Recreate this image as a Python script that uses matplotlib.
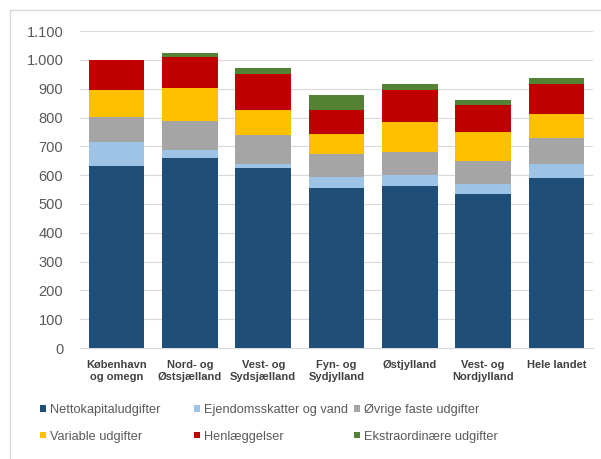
import matplotlib.pyplot as plt
from matplotlib.patches import Patch
from matplotlib.lines import Line2D
import numpy as np

plt.rcParams['font.family'] = ['Liberation Sans', 'DejaVu Sans']

regions = ["København\nog omegn", "Nord- og\nØstsjælland", "Vest- og\nSydsjælland",
           "Fyn- og\nSydjylland", "Østjylland", "Vest- og\nNordjylland", "Hele landet"]
netto = [632, 659, 624, 557, 563, 535, 591]
ejendom = [84, 29, 15, 38, 38, 34, 47]
oevrige = [87, 100, 101, 79, 81, 81, 90]
variable = [93, 114, 86, 69, 102, 99, 85]
henl = [104, 109, 124, 83, 112, 95, 104]
ekstra = [0, 14, 21, 52, 21, 17, 19]

series = [
    ("Nettokapitaludgifter", netto, '#1F4E79'),
    ("Ejendomsskatter og vand", ejendom, '#9DC3E6'),
    ("Øvrige faste udgifter", oevrige, '#A5A5A5'),
    ("Variable udgifter", variable, '#FFC000'),
    ("Henlæggelser", henl, '#C00000'),
    ("Ekstraordinære udgifter", ekstra, '#548235'),
]

W, H = 601, 459
fig = plt.figure(figsize=(W / 100, H / 100), dpi=100)
ax = fig.add_axes([80 / W, 1 - 348 / H, 513 / W, (348 - 31.2) / H])

x = np.arange(len(regions))
bottom = np.zeros(len(regions))
handles = []
for name, vals, col in series:
    ax.bar(x, vals, bottom=bottom, width=0.76, color=col, zorder=3)
    bottom += np.array(vals)
    handles.append(Patch(facecolor=col, label=name))

ax.set_xlim(-0.5, len(regions) - 0.5)
ax.set_ylim(0, 1100)
ax.set_yticks(np.arange(0, 1101, 100))
ax.set_yticklabels([f"{v:,}".replace(",", ".") for v in range(0, 1101, 100)])
ax.set_xticks(x)
ax.set_xticklabels(regions, fontsize=8, fontweight='bold', color='#404040', linespacing=1.25)
ax.tick_params(axis='y', length=0, pad=12, labelsize=10.5, labelcolor='#595959')
ax.tick_params(axis='x', length=0, pad=9)
ax.grid(axis='y', color='#D9D9D9', linewidth=0.8, zorder=0)
for s in ['top', 'right', 'left']:
    ax.spines[s].set_visible(False)
ax.spines['bottom'].set_color('#D9D9D9')

# outer frame (top and left edges visible)
fig.add_artist(Line2D([10 / W, 1], [1 - 10 / H, 1 - 10 / H], color='#D9D9D9', lw=1))
fig.add_artist(Line2D([10 / W, 10 / W], [0, 1 - 10 / H], color='#D9D9D9', lw=1))

# legend: three columns, two rows
cols_x = [40, 194, 354]
for i, cx in enumerate(cols_x):
    hs = [handles[i], handles[i + 3]]
    fig.legend(handles=hs, loc='center left', bbox_to_anchor=(cx / W, 1 - 423.5 / H),
               frameon=False, fontsize=9.2, labelcolor='#595959',
               handlelength=0.45, handleheight=0.45, handletextpad=0.3,
               labelspacing=1.1, borderpad=0, borderaxespad=0)

fig.savefig('out.png', dpi=100)
